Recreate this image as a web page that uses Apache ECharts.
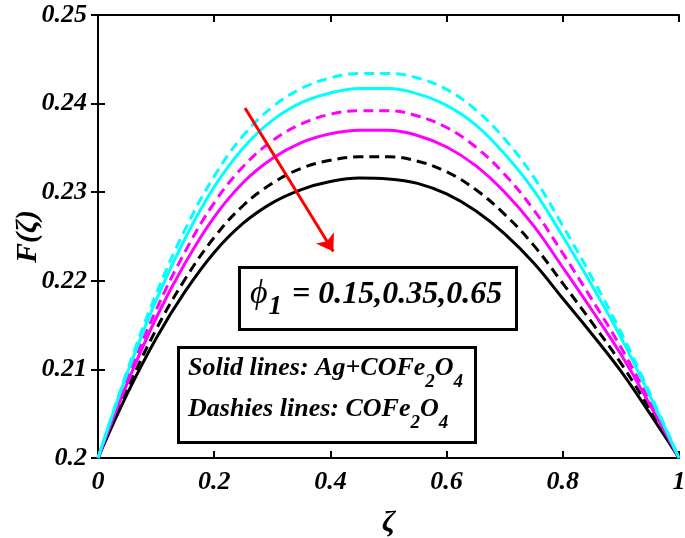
<!DOCTYPE html>
<html><head><meta charset="utf-8">
<script src="https://cdn.jsdelivr.net/npm/echarts@6/dist/echarts.min.js"></script>
<style>html,body{margin:0;padding:0;background:#fff}#c{width:685px;height:538px}</style>
</head><body><div id="c"></div>
<script>
// ---- data ----
const zeta = [0,0.05,0.1,0.15,0.2,0.25,0.3,0.35,0.4,0.45,0.5,0.55,0.6,0.65,0.7,0.75,0.8,0.85,0.9,0.95,1];
const cyanDashed    = [0.2,0.2098,0.2185,0.2258,0.2318,0.2364,0.2396,0.2417,0.2429,0.2434,0.2434,0.2429,0.2416,0.2393,0.2360,0.2317,0.2262,0.2204,0.2142,0.2073,0.2];
const cyanSolid     = [0.2,0.2095,0.2178,0.2248,0.2306,0.2350,0.2381,0.2401,0.2412,0.2417,0.2417,0.2411,0.2398,0.2376,0.2343,0.2302,0.2250,0.2195,0.2136,0.2070,0.2];
const magentaDashed = [0.2,0.2089,0.2167,0.2233,0.2288,0.2329,0.2358,0.2377,0.2388,0.2392,0.2392,0.2386,0.2373,0.2351,0.2320,0.2280,0.2231,0.2179,0.2125,0.2064,0.2];
const magentaSolid  = [0.2,0.2084,0.2158,0.2220,0.2272,0.2311,0.2338,0.2356,0.2366,0.2370,0.2370,0.2364,0.2351,0.2330,0.2300,0.2262,0.2215,0.2167,0.2117,0.2060,0.2];
const blackDashed   = [0.2,0.2077,0.2145,0.2202,0.2249,0.2285,0.2310,0.2327,0.2336,0.2340,0.2340,0.2335,0.2323,0.2303,0.2275,0.2240,0.2197,0.2153,0.2107,0.2055,0.2];
const blackSolid    = [0.2,0.2072,0.2135,0.2188,0.2232,0.2265,0.2288,0.2303,0.2312,0.2316,0.2315,0.2310,0.2298,0.2279,0.2253,0.2220,0.2180,0.2140,0.2098,0.2050,0.2];
const xTickLabels = ['0','0.2','0.4','0.6','0.8','1'];
const yTickLabels = ['0.2','0.21','0.22','0.23','0.24','0.25'];
const arrowFrom = [0.253, 0.2395];
const arrowTo   = [0.405, 0.2233];

const FONT = 'Liberation Serif';
const chart = echarts.init(document.getElementById('c'), null, {renderer:'canvas'});

function pts(arr){ return zeta.map((z,i)=>[z, arr[i]]); }
function mk(name, arr, color, dashed){
  return {name, type:'line', data:pts(arr), showSymbol:false, smooth:0.4, silent:true,
    lineStyle:{color, width:3, type: dashed ? [10,6] : 'solid'}, z: 3};
}
const fmtX = v => { const i = Math.round(v/0.2); return xTickLabels[i] ?? ''; };
const fmtY = v => { const i = Math.round((v-0.2)/0.01); return yTickLabels[i] ?? ''; };

// text run helper
const ctx = document.createElement('canvas').getContext('2d');
function runs(x, baseline, parts){
  const els = []; let cx = x;
  for (const p of parts){
    const font = `${p.it===false?'normal':'italic'} ${p.bold===false?'normal':'bold'} ${p.size}px "${p.fam||FONT}"`;
    ctx.font = font;
    const w = ctx.measureText(p.t).width;
    els.push({type:'text', x: cx, y: baseline + (p.dy||0) - 0.32*p.size, z: 20,
      style:{text:p.t, font, fill:'#000', textAlign:'left', textVerticalAlign:'middle', verticalAlign:'middle'}});
    cx += w + (p.gap||0);
  }
  return els;
}

const axLine = {show:true, lineStyle:{color:'#000', width:2}};
const axTick = {show:true, inside:true, length:7, lineStyle:{color:'#000', width:2}};
const lab = {fontFamily:FONT, fontStyle:'italic', fontWeight:'bold', fontSize:26, color:'#000'};

const graphics = [
  {type:'rect', shape:{x:239.5, y:267.5, width:277, height:62}, style:{fill:'#fff', stroke:'#000', lineWidth:3}, z:10},
  {type:'rect', shape:{x:178.5, y:347.5, width:297, height:95}, style:{fill:'#fff', stroke:'#000', lineWidth:3}, z:10},
  ...runs(250, 305, [{t:'ϕ', size:34, bold:false, gap:1}, {t:'1', size:27, dy:11, gap:10}, {t:'= 0.15,0.35,0.65', size:32}]),
  ...runs(188, 377, [{t:'Solid lines: Ag+COFe', size:26}, {t:'2', size:19, dy:11}, {t:'O', size:26}, {t:'4', size:19, dy:11}]),
  ...runs(188, 418, [{t:'Dashies lines: COFe', size:26}, {t:'2', size:19, dy:11}, {t:'O', size:26}, {t:'4', size:19, dy:11}])
];

const series = [
  mk('blackSolid', blackSolid, '#000000', false),
  mk('blackDashed', blackDashed, '#000000', true),
  mk('magentaSolid', magentaSolid, '#ff00ff', false),
  mk('magentaDashed', magentaDashed, '#ff00ff', true),
  mk('cyanSolid', cyanSolid, '#00ffff', false),
  mk('cyanDashed', cyanDashed, '#00ffff', true),
  {type:'line', data:[], silent:true, z:5,
   markLine:{silent:true, symbol:['none','arrow'], symbolSize:16, label:{show:false},
     lineStyle:{color:'#ff0000', width:3, type:'solid'},
     itemStyle:{color:'#ff0000'},
     emphasis:{disabled:true},
     data:[[{coord:arrowFrom},{coord:arrowTo}]]}}
];

chart.setOption({
  animation:false,
  backgroundColor:'#fff',
  grid:{left:98, right:6, top:15, bottom:80, outerBoundsMode:'none', containLabel:false},
  xAxis:[
    {type:'value', min:0, max:1, interval:0.2, position:'bottom',
     axisLine:axLine, axisTick:axTick, splitLine:{show:false},
     axisLabel:{...lab, margin:11, formatter:fmtX},
     name:'ζ', nameLocation:'middle', nameGap:50, nameMoveOverlap:false,
     nameTextStyle:{fontFamily:FONT, fontStyle:'italic', fontWeight:'bold', fontSize:30, color:'#000'}},
    {type:'value', min:0, max:1, interval:0.2, position:'top',
     axisLine:axLine, axisTick:axTick, splitLine:{show:false}, axisLabel:{show:false}}
  ],
  yAxis:[
    {type:'value', min:0.2, max:0.25, interval:0.01, position:'left',
     axisLine:axLine, axisTick:axTick, splitLine:{show:false},
     axisLabel:{...lab, margin:11, formatter:fmtY},
     name:'F(ζ)', nameLocation:'middle', nameGap:55, nameRotate:90, nameMoveOverlap:false,
     nameTextStyle:{fontFamily:FONT, fontStyle:'italic', fontWeight:'bold', fontSize:30, color:'#000'}},
    {type:'value', min:0.2, max:0.25, interval:0.01, position:'right',
     axisLine:axLine, axisTick:axTick, splitLine:{show:false}, axisLabel:{show:false}}
  ],
  series,
  graphic: graphics
});
</script></body></html>
